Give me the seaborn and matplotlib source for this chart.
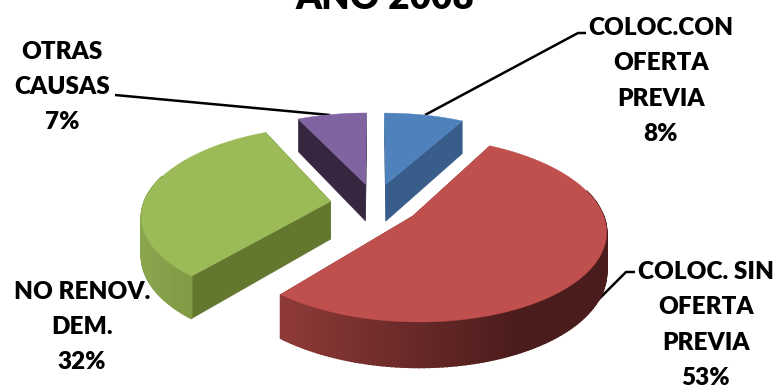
#!/usr/bin/env python
"""Exploded 3D-looking pie, ANO 2008."""

import matplotlib.pyplot as plt
import seaborn as sns
import numpy as np

categories = ['COLOC.CON\nOFERTA\nPREVIA', 'COLOC. SIN\nOFERTA\nPREVIA', 'NO RENOV.\nDEM.', 'OTRAS\nCAUSAS']
values = [8, 53, 32, 7]
title = 'AÑO 2008'

top_colors = ['#4F81BD', '#C0504D', '#9BBB59', '#8064A2']
cut_colors = ['#385D8A', '#7A2F2D', '#64772F', '#362640']
wall_ramps = [('#385D8A', '#385D8A'), ('#8F3A38', '#4A1C1B'), ('#8AA64D', '#73893A'), ('#362640', '#362640')]

label_pos = [(661, 80), (706, 324), (82, 326), (62, 86)]
leaders = [
    [(425, 115), (578, 33), (586, 33)],
    [(585, 313), (626, 272), (635, 272)],
    None,
    [(115, 95), (330, 115)],
]

# projection of the pie plane, in pixels
CX, CY = 375, 204
RX, RY = 187, 86.9
PERSP = 0.1445
EXPLODE = 0.24
DEPTH = 38

sns.set_theme(style='white')
plt.rcParams['font.family'] = ['Lato', 'DejaVu Sans']


def project(x, y):
    w = 1 + PERSP * y
    return CX + RX * x / w, CY - RY * y / w, DEPTH / w


fig = plt.figure(figsize=(7.78, 3.87), dpi=100)
ax = fig.add_axes([0, 0, 1, 1])
ax.set_xlim(0, 778)
ax.set_ylim(387, 0)
ax.axis('off')

for pts in leaders:
    if pts is not None:
        ax.plot(*zip(*pts), color='black', lw=1.8, zorder=1, solid_capstyle='butt')

edges = np.cumsum([0] + values) / sum(values) * 2 * np.pi
for i in range(len(values)):
    t1, t2 = edges[i], edges[i + 1]
    mid = (t1 + t2) / 2
    ox, oy = EXPLODE * np.sin(mid), EXPLODE * np.cos(mid)
    theta = np.linspace(t1, t2, 160)
    sx, sy, d = project(ox + np.sin(theta), oy + np.cos(theta))
    ax0, ay0, d0 = project(ox, oy)

    # cut faces first, the wall goes over them
    z = 2 + i * 3
    for j in (0, -1):
        ax.fill([ax0, sx[j], sx[j], ax0], [ay0, sy[j], sy[j] + d[j], ay0 + d0],
                color=cut_colors[i], lw=0.3, zorder=z)

    ramp = sns.blend_palette(wall_ramps[i], n_colors=len(theta))
    lo, hi = sx.min(), min(sx.max(), sx.min() + 240)
    for k in range(len(theta) - 1):
        if np.cos(theta[k]) < 0.3:
            c = ramp[int(np.clip((sx[k] - lo) / (hi - lo), 0, 1) * (len(theta) - 1))]
            ax.fill([sx[k], sx[k + 1], sx[k + 1], sx[k]],
                    [sy[k], sy[k + 1], sy[k + 1] + d[k + 1], sy[k] + d[k]],
                    color=c, lw=1.2, zorder=z + 1)

    ax.fill(np.r_[ax0, sx], np.r_[ay0, sy], color=top_colors[i], lw=0.3, zorder=z + 2)

for name, val, (lx, ly) in zip(categories, values, label_pos):
    ax.text(lx, ly + 1, f'{name}\n{val}%', ha='center', va='center', fontsize=17.5,
            fontweight='heavy', color='black', linespacing=1.74, zorder=20)

ax.text(385, 9, title, ha='center', va='baseline', fontsize=26.5, fontweight='heavy', color='black')

fig.savefig('out.png', dpi=100, facecolor='white')
plt.close(fig)
